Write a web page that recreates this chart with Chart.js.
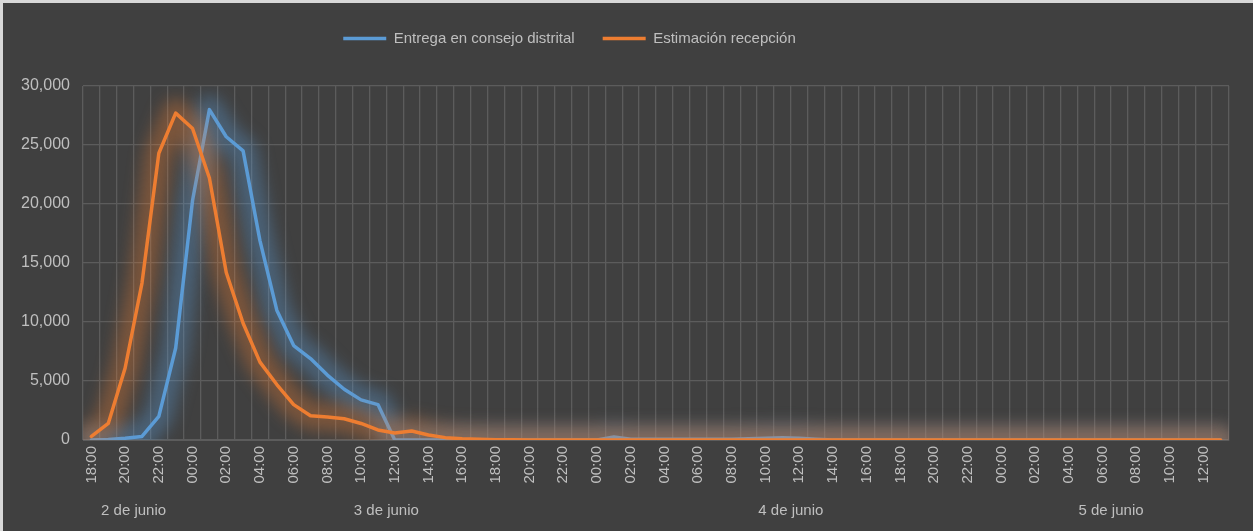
<!DOCTYPE html>
<html lang="es">
<head>
<meta charset="utf-8">
<title>Entrega en consejo distrital</title>
<script src="https://cdn.jsdelivr.net/npm/chart.js"></script>
<style>
    html, body { margin: 0; padding: 0; background: #d9d9d9; overflow: hidden; }
    #chartBox { position: absolute; left: 3px; top: 3px; width: 1250px; height: 528px; background: #404040; }
</style>
</head>
<body>
<div id="chartBox"><canvas id="deliveryChart"></canvas></div>
<script>
// Hourly categories, 2 de junio 18:00 -> 5 de junio 13:00
const hourLabels = [
    '18:00', '19:00', '20:00', '21:00', '22:00', '23:00',
    '00:00', '01:00', '02:00', '03:00', '04:00', '05:00', '06:00', '07:00', '08:00', '09:00', '10:00', '11:00',
    '12:00', '13:00', '14:00', '15:00', '16:00', '17:00', '18:00', '19:00', '20:00', '21:00', '22:00', '23:00',
    '00:00', '01:00', '02:00', '03:00', '04:00', '05:00', '06:00', '07:00', '08:00', '09:00', '10:00', '11:00',
    '12:00', '13:00', '14:00', '15:00', '16:00', '17:00', '18:00', '19:00', '20:00', '21:00', '22:00', '23:00',
    '00:00', '01:00', '02:00', '03:00', '04:00', '05:00', '06:00', '07:00', '08:00', '09:00', '10:00', '11:00',
    '12:00', '13:00'
];

// Day groups under the hour labels
const dayNames = ['2 de junio', '3 de junio', '4 de junio', '5 de junio'];
const dayHours = [6, 24, 24, 14];

// Series values
const entregaConsejo = [
    0, 50, 150, 300, 2000, 7800,
    20300, 28000, 25700, 24500, 16900, 11000, 8000, 6900, 5500, 4300, 3400, 3000,
    0, 0, 0, 0, 0, 0, 0, 0, 0, 0, 0, 0,
    0, 250, 60, 60, 60, 60, 60, 60, 60, 100, 150, 200,
    150, 60, 0, 0, 0, 0, 0, 0, 0, 0, 0, 0,
    0, 0, 0, 0, 0, 0, 0, 0, 0, 0, 0, 0,
    0, 0
];
const estimacionRecepcion = [
    300, 1400, 6100, 13300, 24300, 27700,
    26400, 22200, 14200, 9900, 6600, 4700, 3000, 2050, 1950, 1800, 1400, 850,
    600, 760, 420, 200, 110, 60, 30, 20, 10, 0, 0, 0,
    0, 0, 0, 0, 0, 0, 0, 0, 0, 0, 0, 0,
    0, 0, 0, 0, 0, 0, 0, 0, 0, 0, 0, 0,
    0, 0, 0, 0, 0, 0, 0, 0, 0, 0, 0, 0,
    0, 0
];

const textColor = '#bfbfbf';
const gridColor = '#5c5c5c';

let deliveryChart = null;

document.addEventListener('DOMContentLoaded', function () {
    initializeChart();
});

// Soft glow behind each line (like the Office glow effect)
const glowPlugin = {
    id: 'glow',
    beforeDatasetDraw(chart, args) {
        const ds = chart.data.datasets[args.index];
        const area = chart.chartArea;
        const ctx = chart.ctx;
        ctx.save();
        ctx.beginPath();
        ctx.rect(area.left, area.top, area.width, area.height);
        ctx.clip();
        ctx.filter = 'blur(8px)';
        ctx.strokeStyle = ds.glowColor;
        ctx.lineWidth = 28;
        ctx.lineJoin = 'round';
        ctx.lineCap = 'round';
        ctx.beginPath();
        args.meta.data.forEach((pt, i) => {
            if (i === 0) ctx.moveTo(pt.x, pt.y);
            else ctx.lineTo(pt.x, pt.y);
        });
        ctx.stroke();
        ctx.restore();
    }
};

// Legend box: taller, and moved a bit to the left
const legendLayout = {
    id: 'legendLayout',
    beforeInit(chart) {
        const origFit = chart.legend.fit;
        chart.legend.fit = function () {
            origFit.call(this);
            this.height = 83;
        };
    },
    afterLayout(chart) {
        chart.legend.right -= 93;
    }
};

function initializeChart() {
    // centre of each day group, in category units
    const dayCenters = [];
    let start = 0;
    dayHours.forEach(n => {
        dayCenters.push(start + (n - 1) / 2);
        start += n;
    });

    Chart.defaults.font.family = '"Liberation Sans", Arial, sans-serif';
    Chart.defaults.font.size = 15;
    Chart.defaults.color = textColor;

    const ctx = document.getElementById('deliveryChart').getContext('2d');
    deliveryChart = new Chart(ctx, {
        type: 'line',
        data: {
            labels: hourLabels,
            datasets: [{
                label: 'Entrega en consejo distrital',
                data: entregaConsejo,
                borderColor: '#5b9bd5',
                backgroundColor: '#5b9bd5',
                glowColor: 'rgba(91, 155, 213, 0.36)',
                borderWidth: 3.5,
                borderCapStyle: 'round',
                borderJoinStyle: 'round',
                pointRadius: 0,
                tension: 0,
                order: 1
            }, {
                label: 'Estimación recepción',
                data: estimacionRecepcion,
                borderColor: '#ed7d31',
                backgroundColor: '#ed7d31',
                glowColor: 'rgba(237, 125, 49, 0.34)',
                borderWidth: 3.5,
                borderCapStyle: 'round',
                borderJoinStyle: 'round',
                pointRadius: 0,
                tension: 0,
                order: 0
            }]
        },
        options: {
            responsive: true,
            maintainAspectRatio: false,
            animation: false,
            layout: { padding: { top: 0, right: 24, bottom: 0, left: 0 } },
            plugins: {
                legend: {
                    position: 'top',
                    labels: {
                        usePointStyle: true,
                        pointStyle: 'line',
                        pointStyleWidth: 43,
                        padding: 28,
                        color: textColor,
                        font: { size: 15 },
                        sort: (a, b) => a.datasetIndex - b.datasetIndex
                    }
                },
                tooltip: { enabled: false }
            },
            scales: {
                x: {
                    type: 'category',
                    offset: true,
                    weight: 0,
                    grid: { color: gridColor, lineWidth: 1.3, offset: true, drawTicks: false },
                    border: { color: gridColor },
                    ticks: {
                        autoSkip: false,
                        minRotation: 90,
                        maxRotation: 90,
                        padding: 6,
                        color: textColor,
                        callback: function (value, index) {
                            return index % 2 === 0 ? hourLabels[index] : '';
                        }
                    },
                    afterFit: function (scale) { scale.height = 50; }
                },
                x2: {
                    type: 'linear',
                    position: 'bottom',
                    weight: 1,
                    min: -0.5,
                    max: hourLabels.length - 0.5,
                    grid: { display: false, drawTicks: false },
                    border: { display: false },
                    ticks: {
                        maxRotation: 0,
                        padding: 12,
                        color: textColor,
                        callback: function (value, index) { return dayNames[index]; }
                    },
                    afterBuildTicks: function (scale) {
                        scale.ticks = dayCenters.map(v => ({ value: v }));
                    },
                    afterFit: function (scale) { scale.height = 41; }
                },
                y: {
                    min: 0,
                    max: 30000,
                    grid: { color: gridColor, lineWidth: 1.3, drawTicks: false },
                    border: { display: false },
                    ticks: {
                        stepSize: 5000,
                        padding: 13,
                        color: textColor,
                        font: { size: 16 },
                        callback: value => value.toLocaleString('en-US')
                    },
                    afterFit: function (scale) { scale.width = 80; }
                }
            }
        },
        plugins: [glowPlugin, legendLayout]
    });
}
</script>
</body>
</html>
